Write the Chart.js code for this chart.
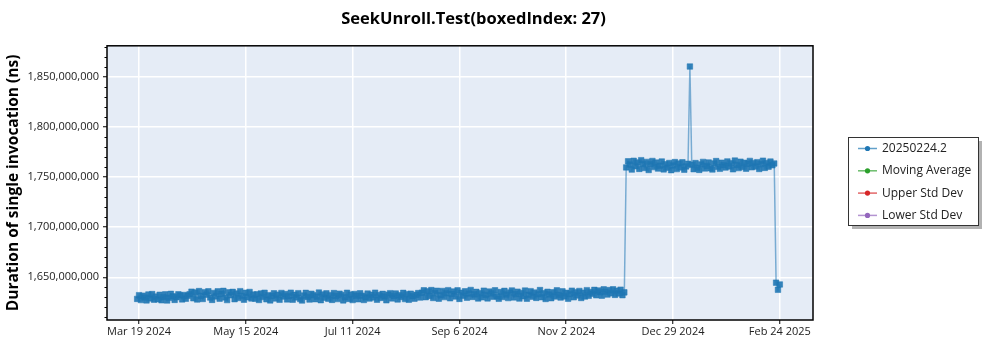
<!DOCTYPE html>
<html><head><meta charset="utf-8">
<script src="https://cdn.jsdelivr.net/npm/chart.js@4.4.1/dist/chart.umd.min.js"></script>
<style>html,body{margin:0;padding:0;background:#fff}#wrap{width:1000px;height:350px}</style>
</head><body><div id="wrap"><canvas id="c"></canvas></div>
<script>
const chartTitle = 'SeekUnroll.Test(boxedIndex: 27)';
const yAxisTitle = 'Duration of single invocation (ns)';
const seriesNames = ['20250224.2', 'Moving Average', 'Upper Std Dev', 'Lower Std Dev'];
const seriesColors = ['#1f77b4', '#2ca02c', '#d62728', '#9467bd'];
const xTickDates = ['2024-03-19', '2024-05-15', '2024-07-11', '2024-09-06', '2024-11-02', '2024-12-29', '2025-02-24'];
const yTickValues = [1650000000, 1700000000, 1750000000, 1800000000, 1850000000];

// Durations in milliseconds (x 1,000,000 = ns); one run per day starting at the given date
const runsAStart = '2024-03-18';
const runsA = [
  1628.4, 1632.1, 1627.2, 1631.6, 1629.8, 1626.9, 1632.8, 1628.9, 1633.2, 1627.6,
  1630.7, 1628.1, 1632.5, 1627.0, 1630.3, 1632.9, 1626.8, 1629.5, 1633.4, 1631.0,
  1627.4, 1630.1, 1633.0, 1631.8, 1627.9, 1632.3, 1628.6, 1631.5,
  1633.1, 1635.6, 1629.0, 1634.8, 1627.8, 1636.2, 1631.4, 1628.3, 1635.1, 1632.6,
  1636.0, 1629.7, 1627.4, 1634.3, 1630.9, 1635.9, 1628.6, 1633.5, 1636.4, 1629.9,
  1627.2, 1634.9, 1632.0, 1635.4, 1628.1, 1633.8, 1629.3, 1636.1, 1631.2, 1627.6,
  1634.5, 1630.0, 1635.3, 1628.8, 1632.7,
  1628.6, 1632.9, 1627.3, 1633.8, 1630.2, 1634.5, 1628.0, 1632.1, 1626.9, 1631.4,
  1634.0, 1628.8, 1632.6, 1627.5, 1634.3, 1630.7, 1633.2, 1627.9, 1631.1, 1634.6,
  1627.6, 1632.4, 1629.9, 1634.1, 1628.3, 1626.8, 1631.8, 1634.4, 1630.4, 1627.7,
  1633.5, 1632.0, 1628.1, 1630.6, 1634.7, 1627.1, 1632.8, 1629.6, 1633.9, 1628.5,
  1631.9, 1627.4, 1634.2, 1631.2, 1628.2, 1633.6, 1632.3, 1626.9, 1630.1, 1634.5,
  1628.4, 1632.7, 1627.2, 1633.3, 1631.5, 1628.0, 1634.0, 1631.6, 1627.3, 1630.0,
  1633.7, 1628.7, 1632.5, 1629.8, 1634.6, 1627.6, 1632.2, 1629.4, 1633.4, 1630.8,
  1627.0, 1632.6, 1634.1, 1628.9, 1631.3, 1633.8, 1627.8, 1632.0, 1630.3, 1634.4,
  1628.2, 1633.1, 1627.5, 1633.6, 1631.0, 1628.6, 1632.4, 1634.2, 1629.7,
  1634.6, 1637.0, 1630.1, 1635.9, 1631.4, 1637.2, 1629.3, 1634.2, 1636.5, 1628.6,
  1632.0, 1636.3, 1630.2, 1634.0, 1637.1, 1629.0, 1633.4, 1635.8, 1630.7, 1636.9,
  1628.4, 1634.5, 1631.6, 1636.0, 1629.6, 1633.7, 1637.3, 1630.4, 1632.9, 1635.4,
  1628.8, 1634.1, 1630.0, 1636.6, 1632.3, 1628.9, 1635.7, 1633.9, 1630.5, 1637.0,
  1631.1, 1628.5, 1635.2, 1630.3, 1636.4, 1632.7, 1629.2, 1634.8, 1636.8, 1629.9,
  1633.2, 1635.6, 1628.7, 1634.3, 1631.0, 1636.7, 1628.6, 1632.5, 1636.1, 1630.6,
  1634.7, 1629.4, 1633.0, 1637.2, 1630.1, 1634.0, 1628.3, 1635.5, 1632.8, 1629.1,
  1635.0, 1630.8, 1636.9, 1632.2, 1629.7, 1635.9, 1630.9, 1634.4, 1628.5, 1633.3,
  1636.6, 1630.0, 1634.9, 1631.8, 1636.3, 1629.3, 1634.6, 1630.7, 1637.1, 1631.5,
  1635.3,
  1633.6, 1637.4, 1632.0, 1636.8, 1635.1, 1631.6, 1637.9, 1635.5, 1632.7, 1637.2,
  1634.0, 1638.0, 1632.4, 1636.5, 1633.8, 1637.6, 1632.1, 1634.9
];
const runsBStart = '2024-12-04';
const runsB = [
  1759.8, 1765.9, 1762.6, 1757.6, 1766.4, 1760.9, 1764.8, 1758.3, 1767.0, 1763.2,
  1759.2, 1765.3, 1757.2, 1763.0, 1766.2, 1760.1, 1764.6, 1758.6, 1761.5, 1765.7,
  1757.8, 1762.9, 1759.5, 1764.2, 1757.0, 1761.8, 1765.1, 1758.1, 1763.6, 1759.7,
  1764.9, 1757.5, 1760.8, 1763.4,
  1860.6,
  1762.4, 1758.0, 1764.1, 1759.4, 1757.3, 1762.8, 1765.3, 1758.7, 1761.2, 1764.7,
  1759.0, 1757.7, 1763.8, 1766.1, 1760.4, 1758.4, 1764.5, 1762.0, 1759.6, 1765.8,
  1760.7, 1764.0, 1757.9, 1766.6, 1762.3, 1759.1, 1765.5, 1760.2, 1764.4, 1758.5,
  1763.5, 1766.3, 1759.9, 1764.3, 1760.6, 1765.0, 1758.2, 1763.1, 1766.5, 1759.3,
  1764.2, 1760.5, 1765.6, 1761.9, 1763.7
];
const runsCStart = '2025-02-22';
const runsC = [1644.6, 1637.5, 1642.8];

const DAY = 86400000;
const FONT = "'Segoe UI', 'Open Sans', sans-serif";
const MONTHS = ['Jan','Feb','Mar','Apr','May','Jun','Jul','Aug','Sep','Oct','Nov','Dec'];
const toPoints = (start, vals) => vals.map((v, i) => ({ x: Date.parse(start + 'T00:00:00Z') + i * DAY, y: v * 1e6 }));
const mainData = [].concat(toPoints(runsAStart, runsA), toPoints(runsBStart, runsB), toPoints(runsCStart, runsC));
const xTickValues = xTickDates.map(d => Date.parse(d + 'T00:00:00Z'));
const fmtDate = v => { const d = new Date(v); return MONTHS[d.getUTCMonth()] + ' ' + d.getUTCDate() + ' ' + d.getUTCFullYear(); };

const xMin = xTickValues[0] - 17.1 * DAY, xMax = xTickValues[0] + 359.7 * DAY;
const yMin = 1607300000, yMax = 1881300000;

const alpha = (hex, a) => { const n = parseInt(hex.slice(1), 16); return `rgba(${n>>16},${(n>>8)&255},${n&255},${a})`; };

const framePlugin = {
  id: 'frame',
  beforeDraw(chart) {
    const { ctx, chartArea: a } = chart;
    ctx.save(); ctx.fillStyle = '#E5ECF6'; ctx.fillRect(a.left, a.top, a.right - a.left, a.bottom - a.top); ctx.restore();
  },
  afterDraw(chart) {
    const { ctx, chartArea: a } = chart;
    ctx.save();
    ctx.strokeStyle = '#000'; ctx.lineWidth = 1.5;
    ctx.strokeRect(a.left, a.top, a.right - a.left, a.bottom - a.top);
    const ys = chart.scales.y;
    ctx.lineWidth = 1;
    for (let v = Math.ceil(yMin / 1e7) * 1e7; v <= yMax; v += 1e7) {
      if (v % 5e7 === 0) continue;
      const py = Math.round(ys.getPixelForValue(v)) + 0.5;
      ctx.beginPath(); ctx.moveTo(a.left - 2.5, py); ctx.lineTo(a.left, py); ctx.stroke();
    }
    const bx = 848, by = 137, bw = 130, bh = 88;
    ctx.fillStyle = 'rgba(0,0,0,0.3)'; ctx.fillRect(bx + 4, by + 4, bw, bh);
    ctx.fillStyle = '#fff'; ctx.fillRect(bx, by, bw, bh);
    ctx.strokeStyle = '#333'; ctx.lineWidth = 1; ctx.strokeRect(bx + 0.5, by + 0.5, bw, bh);
    ctx.font = '12px ' + FONT; ctx.textBaseline = 'middle'; ctx.textAlign = 'left';
    chart.data.datasets.forEach((ds, i) => {
      const y = by + 11.5 + i * 22.3;
      ctx.strokeStyle = alpha(seriesColors[i], 0.7); ctx.lineWidth = 1.5;
      ctx.beginPath(); ctx.moveTo(858, y); ctx.lineTo(877, y); ctx.stroke();
      ctx.fillStyle = seriesColors[i];
      ctx.beginPath(); ctx.arc(867.5, y, 2.6, 0, Math.PI * 2); ctx.fill();
      ctx.fillStyle = '#222'; ctx.fillText(ds.label, 882, y);
    });
    ctx.restore();
  }
};

new Chart(document.getElementById('c'), {
  type: 'line',
  data: {
    datasets: seriesNames.map((name, i) => ({
      label: name,
      data: i === 0 ? mainData : [],
      borderColor: alpha(seriesColors[i], 0.55),
      borderWidth: 1.5,
      pointStyle: 'rect',
      pointRadius: 3.9,
      pointBorderWidth: 1,
      pointBackgroundColor: alpha(seriesColors[i], 0.9),
      pointBorderColor: alpha(seriesColors[i], 0.5),
      fill: false,
      tension: 0
    }))
  },
  options: {
    responsive: true, maintainAspectRatio: false, animation: false,
    devicePixelRatio: 1,
    layout: { padding: { left: 0, right: 53, top: 0, bottom: 0 } },
    plugins: {
      legend: { display: false },
      tooltip: { enabled: false },
      title: { display: true, text: chartTitle, color: '#000', font: { family: FONT, size: 16.5, weight: 'bold' }, padding: { top: 9, bottom: 17 } }
    },
    scales: {
      x: {
        type: 'linear', min: xMin, max: xMax,
        afterBuildTicks: s => { s.ticks = xTickValues.map(v => ({ value: v })); },
        afterFit: s => { s.height = 30; },
        ticks: { autoSkip: false, maxRotation: 0, color: '#222', padding: 1, font: { family: FONT, size: 11 }, callback: v => fmtDate(v) },
        grid: { color: '#fff', lineWidth: 1.5, tickColor: '#000', tickLength: 4, tickWidth: 1 },
        border: { display: false }
      },
      y: {
        type: 'linear', min: yMin, max: yMax,
        afterBuildTicks: s => { s.ticks = yTickValues.map(v => ({ value: v })); },
        afterFit: s => { s.width = 107; },
        ticks: { autoSkip: false, color: '#222', padding: 4, font: { family: FONT, size: 11 }, callback: v => Number(v).toLocaleString('en-US') },
        grid: { color: '#fff', lineWidth: 1.5, tickColor: '#000', tickLength: 4, tickWidth: 1 },
        border: { display: false },
        title: { display: true, text: yAxisTitle, color: '#000', font: { family: FONT, size: 15.5, weight: 'bold' }, padding: { top: 4, bottom: 0 } }
      },
      yR: {
        position: 'right', display: true, min: yMin, max: yMax,
        afterFit: s => { s.width = 134; },
        ticks: { display: false }, grid: { display: false, drawTicks: false }, border: { display: false }
      }
    }
  },
  plugins: [framePlugin]
});
</script>
</body></html>
